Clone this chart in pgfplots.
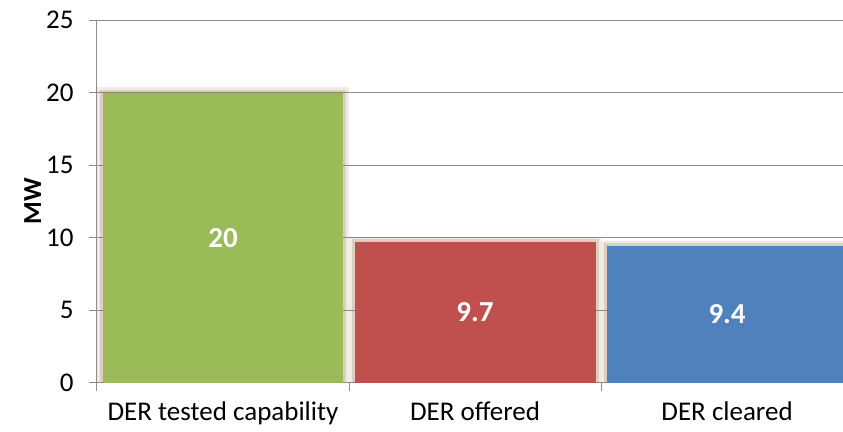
\documentclass[border=0pt]{standalone}
\usepackage{fontspec}
\setmainfont{Carlito}
\usepackage{pgfplots}
\pgfplotsset{compat=1.18}

\definecolor{dergreen}{HTML}{9BBB59}
\definecolor{derred}{HTML}{C0504D}
\definecolor{derblue}{HTML}{4F81BD}
\definecolor{shadowc}{HTML}{A07850}
\definecolor{gridc}{HTML}{8C8C8C}

\begin{document}
\begin{tikzpicture}
\begin{axis}[
  scale only axis,
  width=746pt, height=362.5pt,
  xmin=-0.5, xmax=2.46,
  ymin=0, ymax=25,
  ytick={0,5,10,15,20,25},
  xtick={-0.5,0.5,1.5,2.5},
  xticklabels={},
  extra x ticks={0,1,2},
  extra x tick labels={DER tested capability, DER offered, DER cleared},
  extra x tick style={major tick length=0pt},
  axis x line=bottom, axis y line=left,
  axis line style={-, draw=gridc, line width=1pt},
  ymajorgrids,
  grid style={draw=gridc, line width=1pt},
  tick style={draw=gridc, line width=1pt},
  tick align=outside,
  major tick length=8pt,
  /pgf/number format/assume math mode=true,
  tick label style={font=\fontsize{27}{31}\selectfont, text=black},
  xticklabel style={yshift=-16pt},
  yticklabel style={xshift=-12pt},
  ylabel={\bfseries MW},
  label style={font=\fontsize{26}{30}\selectfont},
  ylabel style={yshift=-2pt},
  ybar, bar shift=0pt, bar width=0.956,
  visualization depends on=y \as \yv,
  nodes near coords style={font=\fontsize{29}{33}\selectfont\bfseries, text=white, anchor=center},
  every node near coord/.append style={shift={(axis direction cs:0,-\yv/2)}},
]
% soft shadow round the bars
\addplot[draw=shadowc, draw opacity=0.15, line width=11pt, fill=none] coordinates {(0,20) (1,9.7) (2,9.4)};
\addplot[draw=shadowc, draw opacity=0.25, line width=6pt, fill=none] coordinates {(0,20) (1,9.7) (2,9.4)};
% bars
\addplot[fill=dergreen, draw=none, nodes near coords] coordinates {(0,20)};
\addplot[fill=derred, draw=none, nodes near coords] coordinates {(1,9.7)};
\addplot[fill=derblue, draw=none, nodes near coords] coordinates {(2,9.4)};
\coordinate (sw) at (rel axis cs:0,0);
\coordinate (ne) at (rel axis cs:1,1);
\end{axis}
\pgfresetboundingbox
\path[use as bounding box] ([shift={(-97pt,-48.3pt)}]sw) rectangle ([shift={(0pt,20.2pt)}]ne);
\end{tikzpicture}
\end{document}
